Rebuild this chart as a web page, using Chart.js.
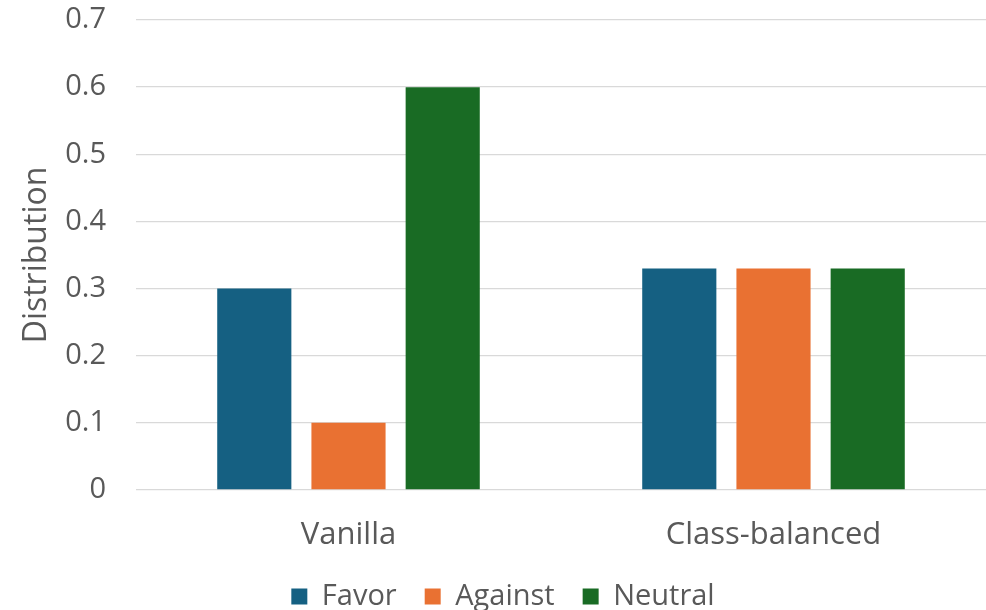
<!DOCTYPE html>
<html>
<head>
<meta charset="utf-8">
<script src="https://cdn.jsdelivr.net/npm/chart.js@4"></script>
<style>
  html, body { margin: 0; padding: 0; background: #ffffff; overflow: hidden; }
  #wrap { width: 986px; height: 610px; position: relative; }
</style>
</head>
<body>
<div id="wrap"><canvas id="c"></canvas></div>
<script>
const categories = ["Vanilla", "Class-balanced"];
const seriesNames = ["Favor", "Against", "Neutral"];
const favorValues = [0.30, 0.33];
const againstValues = [0.10, 0.33];
const neutralValues = [0.60, 0.33];
const seriesColors = ["#156082", "#E97132", "#196B24"];
const yTicks = [0, 0.1, 0.2, 0.3, 0.4, 0.5, 0.6, 0.7];
const yTitle = "Distribution";

const FONT = "'Open Sans', 'Liberation Sans', sans-serif";
const TEXT = "#595959";

const data = {
  labels: categories,
  datasets: [favorValues, againstValues, neutralValues].map((vals, i) => ({
    label: seriesNames[i],
    data: vals,
    backgroundColor: seriesColors[i],
    borderWidth: 0,
    categoryPercentage: 0.665,
    barPercentage: 0.787
  }))
};

new Chart(document.getElementById('c'), {
  type: 'bar',
  data,
  options: {
    responsive: true,
    maintainAspectRatio: false,
    animation: false,
    layout: { padding: { top: 20, right: 0, left: 20, bottom: -11 } },
    plugins: {
      tooltip: { enabled: false },
      legend: {
        position: 'bottom',
        labels: {
          boxWidth: 16,
          boxHeight: 16,
          padding: 28,
          color: TEXT,
          font: { family: FONT, size: 29 }
        }
      }
    },
    scales: {
      x: {
        grid: { display: false, drawTicks: false },
        border: { display: false },
        ticks: { color: TEXT, font: { family: FONT, size: 31 }, padding: 27 },
        afterFit: (axis) => {
          axis.height = 64;
          axis.paddingLeft = 0;
          axis.paddingRight = 0;
        }
      },
      y: {
        min: 0,
        max: 0.7,
        afterBuildTicks: (axis) => { axis.ticks = yTicks.map(v => ({ value: v })); },
        grid: { color: '#d9d9d9', lineWidth: 1.3, drawTicks: false },
        border: { display: false },
        ticks: {
          color: TEXT,
          font: { family: FONT, size: 29 },
          padding: 30,
          callback: (v) => (v === 0 ? '0' : String(Math.round(v * 10) / 10))
        },
        title: {
          display: true,
          text: yTitle,
          color: TEXT,
          font: { family: FONT, size: 32, lineHeight: 1 },
          padding: { top: 1, bottom: 0 }
        },
        afterFit: (axis) => {
          axis.width = 116;
          axis.paddingTop = 0;
          axis.paddingBottom = 0;
        }
      }
    }
  }
});
</script>
</body>
</html>
